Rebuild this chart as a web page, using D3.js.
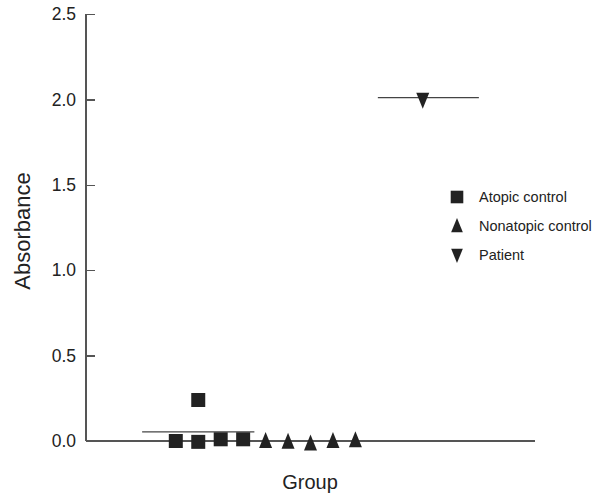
<!DOCTYPE html>
<html lang='en'>
<head>
    <meta charset='UTF-8'>
    <title>Absorbance by group</title>
    <script src='https://cdn.jsdelivr.net/npm/d3@7'></script>
    <style>
        body { margin: 0; background: #fff; font-family: 'Liberation Sans', Arial, sans-serif; }
        .axis path, .axis line { stroke: #555; stroke-width: 1.4; shape-rendering: crispEdges; }
        .axis text { font-size: 17.5px; fill: #222; font-family: 'Liberation Sans', Arial, sans-serif; }
        .mean { stroke: #444; stroke-width: 1.3; }
        .mark { fill: #222; }
        .legend text { font-size: 14.5px; fill: #222; }
    </style>
</head>
<body>
<script>
    // Data (x = jitter slot along the group axis)
    const atopicX = [4, 5, 5, 6, 7];
    const atopicY = [0.00, 0.24, -0.005, 0.01, 0.01];
    const nonatopicX = [8, 9, 10, 11, 12];
    const nonatopicY = [0.00, -0.005, -0.015, 0.00, 0.005];
    const patientX = [15];
    const patientY = [2.01];
    const meanValues = [0.053, 2.01];
    const meanSpans = [[2.5, 7.5], [13, 17.5]];
    const yTicks = [0, 0.5, 1.0, 1.5, 2.0, 2.5];
    const legendLabels = ['Atopic control', 'Nonatopic control', 'Patient'];

    const width = 604, height = 496;
    const margin = { top: 14, right: 69, bottom: 55, left: 86 };

    const svg = d3.select('body').append('svg')
        .attr('width', width)
        .attr('height', height);

    const x = d3.scaleLinear().domain([0, 20]).range([margin.left, width - margin.right]);
    const y = d3.scaleLinear().domain([0, 2.5]).range([height - margin.bottom, margin.top]);

    // Axes
    svg.append('g')
        .attr('class', 'axis')
        .attr('transform', `translate(${margin.left},0)`)
        .call(d3.axisLeft(y).tickValues(yTicks).tickFormat(d3.format('.1f')).tickSize(-9).tickPadding(10))
        .call(g => g.select('.domain').attr('d', `M0,${y(2.5)}V${y(0)}`));

    svg.append('g')
        .attr('class', 'axis')
        .attr('transform', `translate(0,${y(0)})`)
        .call(d3.axisBottom(x).tickValues([]).tickSizeOuter(0))
        .call(g => g.select('.domain').attr('d', `M${margin.left},0H${width - margin.right}`));

    // Axis titles
    svg.append('text')
        .attr('transform', 'translate(30,231) rotate(-90)')
        .attr('text-anchor', 'middle')
        .style('font-size', '22px').style('fill', '#222')
        .text('Absorbance');

    svg.append('text')
        .attr('x', 310).attr('y', 489)
        .attr('text-anchor', 'middle')
        .style('font-size', '20px').style('fill', '#222')
        .text('Group');

    // Mean lines
    svg.selectAll('.mean')
        .data(meanValues)
        .enter().append('line')
        .attr('class', 'mean')
        .attr('x1', (d, i) => x(meanSpans[i][0]))
        .attr('x2', (d, i) => x(meanSpans[i][1]))
        .attr('y1', d => y(d))
        .attr('y2', d => y(d));

    const square = 'M-7,-7H7V7H-7Z';
    const triUp = 'M0,-9L6.5,7H-6.5Z';
    const triDown = 'M0,9L6.5,-7H-6.5Z';

    function drawMarks(xs, ys, shape, dy) {
        svg.append('g').selectAll('path')
            .data(xs.map((d, i) => [d, ys[i]]))
            .enter().append('path')
            .attr('class', 'mark')
            .attr('d', shape)
            .attr('transform', d => `translate(${x(d[0])},${y(d[1]) + dy})`);
    }

    drawMarks(atopicX, atopicY, square, 0);
    drawMarks(nonatopicX, nonatopicY, triUp, 0);
    drawMarks(patientX, patientY, triDown, 2);

    // Legend
    const shapes = [square, triUp, triDown];
    const legend = svg.append('g').attr('class', 'legend');
    legendLabels.forEach((label, i) => {
        const yy = 197 + i * 29;
        legend.append('path').attr('class', 'mark').attr('d', shapes[i])
            .attr('transform', `translate(457,${yy}) scale(0.9)`);
        legend.append('text').attr('x', 479).attr('y', yy + 5).text(label);
    });
</script>
</body>
</html>
